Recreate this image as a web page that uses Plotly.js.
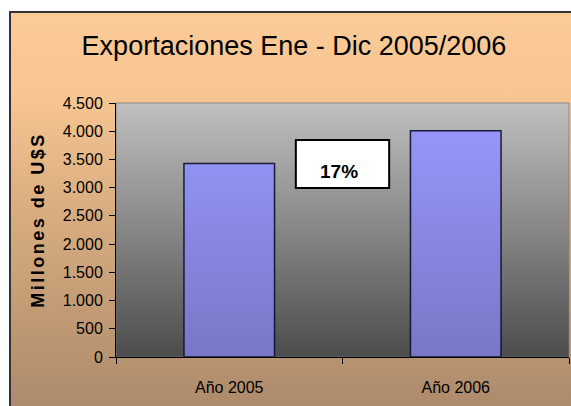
<!DOCTYPE html>
<html><head><meta charset="utf-8">
<script src="https://cdn.plot.ly/plotly-3.0.1.min.js"></script>
<style>
html,body{margin:0;padding:0;background:#fff;width:571px;height:406px;overflow:hidden;}
#frame{position:absolute;left:9px;top:11px;width:600px;height:395px;border-left:2px solid #333;border-top:2px solid #333;
 background:linear-gradient(to bottom,#FACA97 0%,#F6C592 22%,#D9AD80 50%,#AC8A6B 100%);}
#chart{position:absolute;left:0;top:0;width:571px;height:406px;}
#chart .ytitle{letter-spacing:2.5px; translate:0px -10px;}
</style></head>
<body>
<div id="frame"></div>
<div id="chart"></div>
<script>
// ---- data ----
const categories = ['Año 2005', 'Año 2006'];
const exportValues = [3430, 4010];
const yTickVals = [0, 500, 1000, 1500, 2000, 2500, 3000, 3500, 4000, 4500];
const chartTitle = 'Exportaciones Ene - Dic 2005/2006';
const yTitle = 'Millones de U$S';

const growth = Math.round((exportValues[1] / exportValues[0] - 1) * 100) + '%';

function svgUri(stops) {
  const s = stops.map(st => `<stop offset='${st[0]}' stop-color='${st[1]}' stop-opacity='${st[2]}'/>`).join('');
  const svg = `<svg xmlns='http://www.w3.org/2000/svg' width='10' height='100' viewBox='0 0 10 100' preserveAspectRatio='none'><defs><linearGradient id='g' x1='0' y1='0' x2='0' y2='1'>${s}</linearGradient></defs><rect width='10' height='100' fill='url(#g)'/></svg>`;
  return 'data:image/svg+xml;charset=utf-8,' + encodeURIComponent(svg);
}
const bgImg = svgUri([[0,'rgb(192,192,192)',1],[0.25,'rgb(172,172,172)',1],[0.5,'rgb(151,151,151)',1],[0.75,'rgb(126,126,126)',1],[1,'rgb(97,97,97)',1]]);
const shadeImg = svgUri([[0,'#000',0],[1,'#000',0.22]]);

const font = 'Liberation Sans, Arial, sans-serif';

const trace = {
  type: 'bar',
  x: categories,
  y: exportValues,
  width: 0.4,
  marker: {color: '#9999FF', line: {color: '#1c1c3c', width: 1.5}},
  hoverinfo: 'none'
};

const layout = {
  width: 571, height: 406,
  margin: {l: 116, r: 2, t: 103, b: 49, pad: 0},
  paper_bgcolor: 'rgba(0,0,0,0)',
  plot_bgcolor: 'rgba(0,0,0,0)',
  separators: ',.',
  showlegend: false,
  title: {text: chartTitle, font: {family: font, size: 27, color: '#000'},
          x: 294/571, xanchor: 'center', xref: 'container', y: 1 - 46/406, yanchor: 'middle', yref: 'container'},
  xaxis: {type: 'category', range: [-0.5, 1.5], showline: true, linecolor: '#000', linewidth: 1,
          ticks: 'outside', tickson: 'boundaries', ticklen: 6, tickcolor: '#000', tickwidth: 1,
          showgrid: false, tickfont: {family: font, size: 16, color: '#000'}, ticklabelstandoff: 16, fixedrange: true},
  yaxis: {range: [0, 4500], tickvals: yTickVals, tickformat: ',d', separatethousands: true,
          showline: true, linecolor: '#000', linewidth: 1, ticks: 'outside', ticklen: 6, tickcolor: '#000',
          showgrid: false, zeroline: false, tickfont: {family: font, size: 16, color: '#000'}, ticklabelstandoff: 3,
          title: {text: yTitle, font: {family: font, size: 18, color: '#000', weight: 'bold'}, standoff: 13},
          fixedrange: true},
  images: [
    {source: bgImg, xref: 'paper', yref: 'paper', x: 0, y: 1, sizex: 1, sizey: 1, sizing: 'stretch', xanchor: 'left', yanchor: 'top', layer: 'below'},
    {source: shadeImg, xref: 'paper', yref: 'paper', x: 0, y: 1, sizex: 1, sizey: 1, sizing: 'stretch', xanchor: 'left', yanchor: 'top', layer: 'above'}
  ],
  shapes: [
    {type: 'rect', xref: 'paper', yref: 'paper', x0: 0, x1: 1, y0: 0, y1: 1, line: {color: '#8a8a8a', width: 1}, layer: 'below'},
    {type: 'rect', xref: 'paper', yref: 'paper', x0: 0.397, x1: 0.603, y0: 0.665, y1: 0.854, fillcolor: '#fff', line: {color: '#000', width: 2}, layer: 'above'}
  ],
  annotations: [
    {xref: 'paper', yref: 'paper', x: 0.492, y: 0.732, text: growth, showarrow: false,
     font: {family: font, size: 19, color: '#000', weight: 'bold'}, xanchor: 'center', yanchor: 'middle'}
  ]
};

Plotly.newPlot('chart', [trace], layout, {staticPlot: true, displayModeBar: false});
</script>
</body></html>
